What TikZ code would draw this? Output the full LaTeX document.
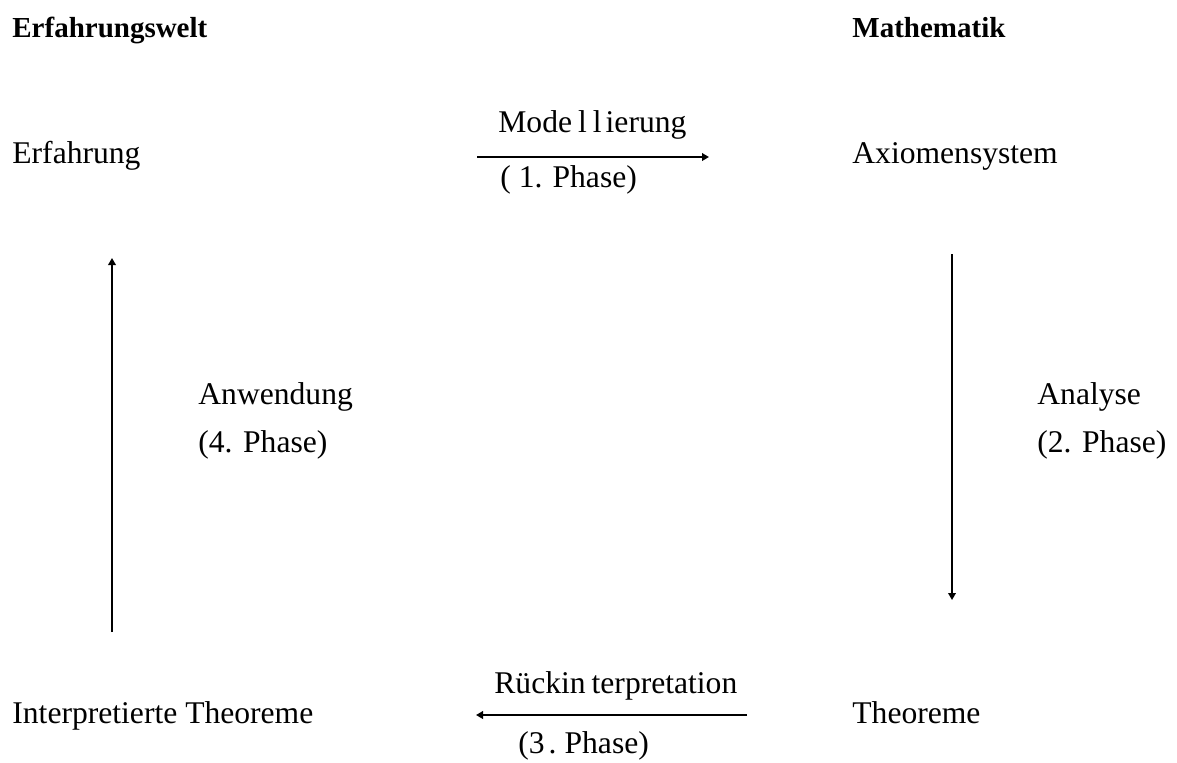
\documentclass[tikz,border=0pt]{standalone}
\usepackage{fontspec}
\setmainfont{Liberation Serif}
\usetikzlibrary{arrows.meta}
\begin{document}
\begin{tikzpicture}[x=0.5pt,y=-0.5pt,
  lbl/.style={anchor=base west,inner sep=0pt,font=\fontsize{15.8}{18}\selectfont},
  hd/.style={lbl,font=\fontsize{14.5}{17}\selectfont\bfseries},
  harrow/.style={line width=1pt,-{Triangle[length=3.5pt,width=3.8pt]}},
  varrow/.style={line width=0.8pt,-{Triangle[length=3.5pt,width=3.8pt]}}]
\useasboundingbox (0,0) rectangle (1177,762);
\node[hd] (ew) at (12,37) {Erfahrungswelt};
\node[hd] (ma) at (852,37) {Mathematik};
\node[lbl] (erf) at (12,163) {Erfahrung};
\node[lbl] (ax) at (852,163) {Axiomensystem};
\node[lbl] (it) at (12,723) {Interpretierte Theoreme};
\node[lbl] (th) at (852,723) {Theoreme};
\node[lbl] (mod) at (498,132) {Mode\kern3pt l\kern3pt l\kern2pt ierung};
\node[lbl] (p1) at (500,187) {(\kern4pt1.\kern5pt Phase)};
\node[lbl] (rk) at (494,693) {Rückin\kern3pt terpretation};
\node[lbl] (p3) at (518,753) {(3\kern2pt.\kern4pt Phase)};
\node[lbl] (anw) at (198,404) {Anwendung};
\node[lbl] (p4) at (198,452) {(4. Phase)};
\node[lbl] (ana) at (1037,404) {Analyse};
\node[lbl] (p2) at (1037,452) {(2. Phase)};
\coordinate (m1) at (477,157);
\coordinate (m2) at (709,157);
\coordinate (r1) at (747,715);
\coordinate (r2) at (476,715);
\coordinate (a1) at (112,632);
\coordinate (a2) at (112,258);
\coordinate (b1) at (952,254);
\coordinate (b2) at (952,600);
\draw[harrow] (m1) -- (m2);
\draw[harrow] (r1) -- (r2);
\draw[varrow] (a1) -- (a2);
\draw[varrow] (b1) -- (b2);
\end{tikzpicture}
\end{document}
